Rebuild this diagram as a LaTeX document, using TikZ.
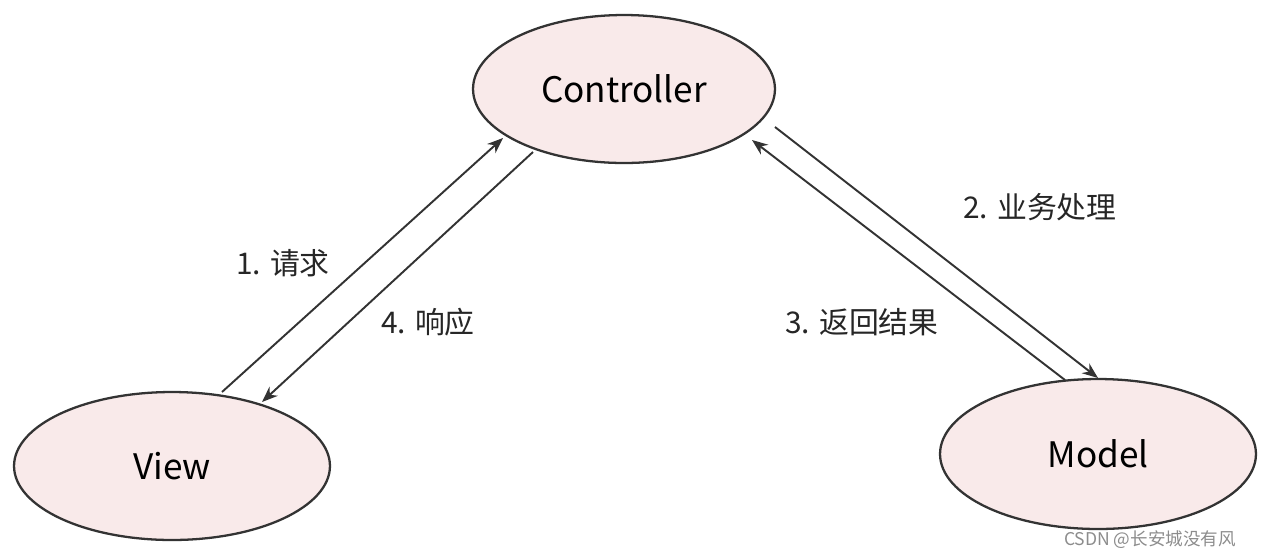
\documentclass[tikz,border=0pt]{standalone}
\usepackage{fontspec}
\setmainfont{Noto Sans CJK SC}
\usetikzlibrary{shapes.geometric,arrows.meta}
\definecolor{efill}{HTML}{F9EAEA}
\definecolor{eline}{HTML}{333333}
\begin{document}
\begin{tikzpicture}[x=0.02cm,y=-0.02cm,
  ell/.style={draw=eline,line width=1.3pt,fill=efill,ellipse,inner sep=0pt,font=\fontsize{20}{24}\selectfont},
  arr/.style={draw=eline,line width=1.1pt,-{Stealth[length=9pt,width=7pt]}},
  lab/.style={font=\fontsize{17}{20}\selectfont,text=black!85}]
\useasboundingbox (0,0) rectangle (1272,556);
\node[ell,minimum width=6.04cm,minimum height=2.96cm] (c) at (624,89) {Controller};
\node[ell,minimum width=6.32cm,minimum height=2.96cm] (v) at (172,466) {View};
\node[ell,minimum width=6.32cm,minimum height=3.0cm] (m) at (1098,454) {Model};
\coordinate (a1) at (222,392); \coordinate (b1) at (503,138);
\coordinate (a4) at (533,152); \coordinate (b4) at (262,402);
\coordinate (a2) at (775,127); \coordinate (b2) at (1098,378);
\coordinate (a3) at (1065,380); \coordinate (b3) at (752,140);
\draw[arr] (a1) -- (b1);
\draw[arr] (a4) -- (b4);
\draw[arr] (a2) -- (b2);
\draw[arr] (a3) -- (b3);
\node[lab] (l1) at (283,263) {1. 请求};
\node[lab] (l4) at (428,322) {4. 响应};
\node[lab] (l2) at (1040,207) {2. 业务处理};
\node[lab] (l3) at (862,322) {3. 返回结果};
\node[font=\fontsize{10}{12}\selectfont,text=black!45] (wm) at (1150,540) {CSDN @长安城没有风};
\end{tikzpicture}
\end{document}
